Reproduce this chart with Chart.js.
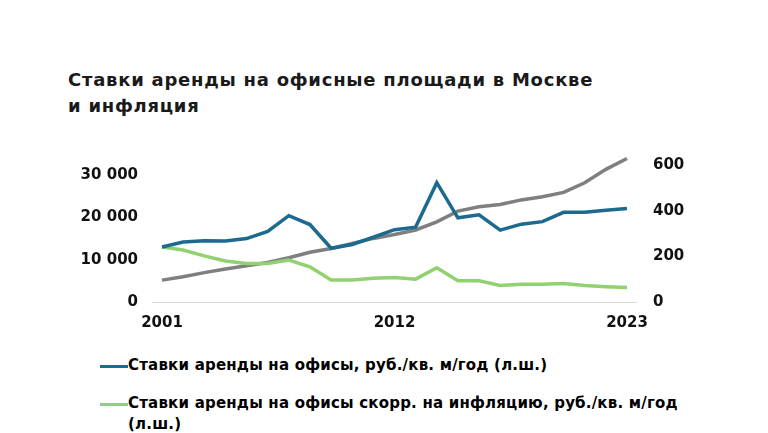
<!DOCTYPE html>
<html lang="ru">
<head>
<meta charset="utf-8">
<script src="https://cdn.jsdelivr.net/npm/chart.js@4/dist/chart.umd.min.js"></script>
<style>
  body { margin: 0; background: #fff; width: 768px; height: 433px; overflow: hidden; position: relative; }
  #title {
    position: absolute; left: 68px; top: 67px; letter-spacing: 0.75px;
    font: bold 18px/26px "DejaVu Sans", Verdana, sans-serif; color: #1a1a1a;
  }
  #wrap { position: absolute; left: 0; top: 140px; width: 768px; height: 200px; }
  #legend { position: absolute; left: 100px; top: 355px; font: bold 15px/21px "DejaVu Sans", sans-serif; letter-spacing: 0.2px; color: #000; }
  .item { display: flex; align-items: flex-start; margin-bottom: 17px; }
  .sw { width: 28px; height: 3px; margin-top: 10px; flex: none; }
  .txt { width: 565px; }
</style>
</head>
<body>
<div id="title">Ставки аренды на офисные площади в Москве<br>и инфляция</div>
<div id="wrap"><canvas id="c"></canvas></div>
<div id="legend"></div>
<script>
const years = ['2001','2002','2003','2004','2005','2006','2007','2008','2009','2010','2011','2012',
               '2013','2014','2015','2016','2017','2018','2019','2020','2021','2022','2023'];
const shownYears = ['2001', '2012', '2023'];

// руб./кв. м/год, левая шкала
const rent     = [13000,14200,14500,14400,15000,16700,20400,18300,12700,13600,15300,17100,
                  17700,28200,19900,20600,17000,18400,19000,21200,21200,21700,22100];
const rentReal = [13000,12300,10900,9700,9100,9100,9900,8300,5200,5200,5600,5800,
                  5400,8100,5000,5000,3900,4200,4200,4400,3900,3600,3400];
// инфляция, правая шкала
const cpi      = [96,111,129,145,159,173,194,218,235,257,279,296,
                  316,352,399,418,428,448,462,481,523,582,630];

const leftTicks  = [0, 10000, 20000, 30000];
const rightTicks = [0, 200, 400, 600];

const tickFont = { family: 'DejaVu Sans', weight: 'bold', size: 15 };
const fmt = v => String(v).replace(/\B(?=(\d{3})+(?!\d))/g, ' ');

const datasets = [
  { label: 'Ставки аренды на офисы, руб./кв. м/год (л.ш.)', data: rent,
    borderColor: '#1d6a8f', yAxisID: 'y', legend: true },
  { label: 'Ставки аренды на офисы скорр. на инфляцию, руб./кв. м/год (л.ш.)', data: rentReal,
    borderColor: '#92d16f', yAxisID: 'y', legend: true },
  { label: 'Инфляция (п.ш.)', data: cpi,
    borderColor: '#7f7f7f', yAxisID: 'y1', legend: false }
].map(d => ({ ...d, borderWidth: 3.5, pointRadius: 0, tension: 0, fill: false }));

// горизонтальная ось чуть шире области графика, как в Excel
const baseline = {
  id: 'baseline',
  beforeDatasetsDraw(chart) {
    const { ctx, chartArea } = chart;
    const y = chart.scales.y.getPixelForValue(0);
    ctx.save();
    ctx.strokeStyle = '#d9d9d9';
    ctx.lineWidth = 1;
    ctx.beginPath();
    ctx.moveTo(chartArea.left - 10, y + 0.5);
    ctx.lineTo(chartArea.right + 10, y + 0.5);
    ctx.stroke();
    ctx.restore();
  }
};

const chart = new Chart(document.getElementById('c'), {
  type: 'line',
  data: { labels: years, datasets },
  plugins: [baseline],
  options: {
    responsive: true,
    maintainAspectRatio: false,
    animation: false,
    layout: { padding: { top: 10, left: 0, right: 0, bottom: 0 } },
    plugins: { legend: { display: false }, tooltip: { enabled: false } },
    scales: {
      x: {
        grid: { display: false, drawTicks: false },
        border: { display: false },
        ticks: {
          autoSkip: false, maxRotation: 0, padding: 12, color: '#111', font: tickFont,
          callback: (v, i) => shownYears.includes(years[i]) ? years[i] : ''
        },
        afterFit: s => { s.height = 38; }
      },
      y: {
        position: 'left', min: 0, max: 35930,
        grid: { display: false, drawTicks: true, tickLength: 24 },
        border: { display: false },
        ticks: { padding: 0, color: '#111', font: tickFont, callback: v => fmt(v) },
        afterBuildTicks: s => { s.ticks = leftTicks.map(v => ({ value: v })); },
        afterFit: s => { s.width = 162; }
      },
      y1: {
        position: 'right', min: 0, max: 667,
        grid: { display: false, drawTicks: true, tickLength: 26 },
        border: { display: false },
        ticks: { padding: 0, color: '#111', font: tickFont },
        afterBuildTicks: s => { s.ticks = rightTicks.map(v => ({ value: v })); },
        afterFit: s => { s.width = 141; }
      }
    }
  }
});

const legend = document.getElementById('legend');
chart.data.datasets.filter(d => d.legend).forEach(d => {
  const item = document.createElement('div');
  item.className = 'item';
  const sw = document.createElement('div');
  sw.className = 'sw';
  sw.style.background = d.borderColor;
  const txt = document.createElement('div');
  txt.className = 'txt';
  txt.textContent = d.label;
  item.append(sw, txt);
  legend.append(item);
});
</script>
</body>
</html>
